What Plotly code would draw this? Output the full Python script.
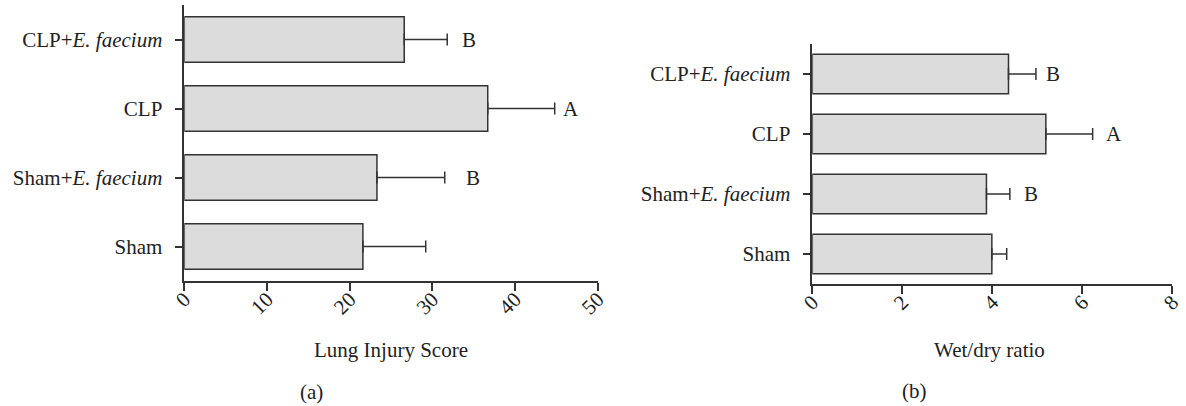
import plotly.graph_objects as go

# ---- data ----
groups = ["Sham", "Sham+<i>E. faecium</i>", "CLP", "CLP+<i>E. faecium</i>"]

lung_injury_mean = [21.6, 23.3, 36.7, 26.6]
lung_injury_err = [7.6, 8.2, 8.1, 5.2]
lung_letters = ["", "B", "A", "B"]

wet_dry_mean = [3.99, 3.87, 5.19, 4.36]
wet_dry_err = [0.33, 0.52, 1.04, 0.61]
wet_dry_letters = ["", "B", "A", "B"]

x_ticks_a = [0, 10, 20, 30, 40, 50]
x_ticks_b = [0, 2, 4, 6, 8]

# ---- styling ----
W, H = 1186, 406
FONT = "Liberation Serif"
DARK = "#333333"
TXT = "#222222"
FILL = "#dcdcdc"
FS = 21

def px_x(p):
    return p / W

def px_y(p):
    return 1 - p / H

fig = go.Figure()

fig.add_trace(go.Bar(
    x=lung_injury_mean, y=groups, orientation="h", width=0.66,
    marker=dict(color=FILL, line=dict(color=DARK, width=1.5)),
    error_x=dict(type="data", symmetric=False, array=lung_injury_err,
                 arrayminus=[0] * len(lung_injury_err),
                 color=DARK, thickness=1.5, width=6),
    xaxis="x", yaxis="y", showlegend=False,
))
fig.add_trace(go.Bar(
    x=wet_dry_mean, y=groups, orientation="h", width=0.655,
    marker=dict(color=FILL, line=dict(color=DARK, width=1.5)),
    error_x=dict(type="data", symmetric=False, array=wet_dry_err,
                 arrayminus=[0] * len(wet_dry_err),
                 color=DARK, thickness=1.5, width=6),
    xaxis="x2", yaxis="y2", showlegend=False,
))

axis_common = dict(
    showline=True, linecolor=DARK, linewidth=1.5,
    ticks="outside", ticklen=8, tickwidth=1.5, tickcolor=DARK,
    showgrid=False, zeroline=False, automargin=False,
    tickfont=dict(family=FONT, size=FS, color=TXT),
)

fig.update_layout(
    width=W, height=H,
    margin=dict(l=0, r=0, t=0, b=0),
    paper_bgcolor="white", plot_bgcolor="white",
    font=dict(family=FONT, size=FS, color=TXT),
    xaxis=dict(domain=[px_x(184.3), px_x(597.7)], range=[0, 50],
               tickvals=x_ticks_a, ticktext=[str(v) for v in x_ticks_a],
               tickangle=-45, anchor="y", ticklabelstandoff=-12, **axis_common),
    yaxis=dict(domain=[px_y(281), px_y(5)], range=[-0.5, 3.5],
               type="category", anchor="x", ticklabelstandoff=8, **axis_common),
    xaxis2=dict(domain=[px_x(812.3), px_x(1172.3)], range=[0, 8],
                tickvals=x_ticks_b, ticktext=[str(v) for v in x_ticks_b],
                tickangle=-45, anchor="y2", ticklabelstandoff=-12, **axis_common),
    yaxis2=dict(domain=[px_y(284), px_y(44)], range=[-0.5, 3.5],
                type="category", anchor="x2", ticklabelstandoff=8, **axis_common),
)

annotations = []
shifts_a = [0, 28, 16, 22]
shifts_b = [0, 21, 21, 17]
for g, m, e, L, s in zip(groups, lung_injury_mean, lung_injury_err, lung_letters, shifts_a):
    if L:
        annotations.append(dict(x=m + e, y=g, xref="x", yref="y", text=L,
                                showarrow=False, xshift=s,
                                font=dict(family=FONT, size=FS, color=TXT)))
for g, m, e, L, s in zip(groups, wet_dry_mean, wet_dry_err, wet_dry_letters, shifts_b):
    if L:
        annotations.append(dict(x=m + e, y=g, xref="x2", yref="y2", text=L,
                                showarrow=False, xshift=s,
                                font=dict(family=FONT, size=FS, color=TXT)))

for text, xp, yp in [("Lung Injury Score", 391, 350), ("(a)", 311.7, 391.7),
                     ("Wet/dry ratio", 989, 350), ("(b)", 914, 390.7)]:
    annotations.append(dict(x=px_x(xp), y=px_y(yp), xref="paper", yref="paper",
                            text=text, showarrow=False, xanchor="center", yanchor="middle",
                            font=dict(family=FONT, size=FS, color=TXT)))

fig.update_layout(annotations=annotations)

fig.write_html("out.html")
